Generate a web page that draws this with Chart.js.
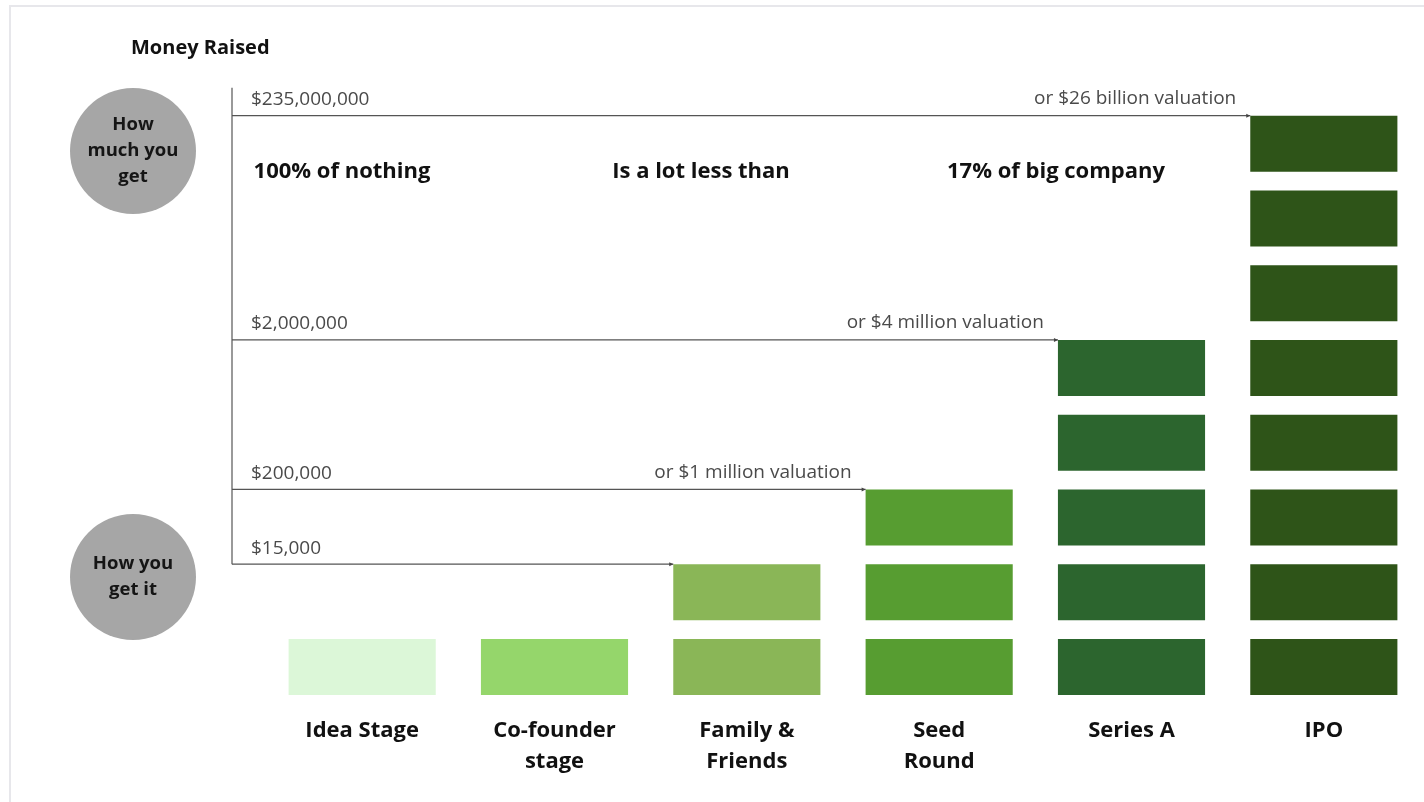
<!DOCTYPE html>
<html>
<head>
<meta charset="utf-8">
<script src="https://cdn.jsdelivr.net/npm/chart.js@4.4.1/dist/chart.umd.min.js"></script>
<style>
  html, body { margin: 0; padding: 0; background: #fff; }
  #wrap { position: relative; width: 1424px; height: 802px; }
</style>
</head>
<body>
<div id="wrap"><canvas id="c"></canvas></div>
<script>
// ---- data ----
const stages = [['Idea Stage'], ['Co-founder', 'stage'], ['Family &', 'Friends'], ['Seed', 'Round'], ['Series A'], ['IPO']];
const blockCounts = [1, 1, 2, 3, 5, 8];
const stageColors = ['#dcf7d8', '#95d66b', '#8ab657', '#579d31', '#2c652e', '#2e5418'];
const milestoneStages = [2, 3, 4, 5];
const milestoneAmounts = ['$15,000', '$200,000', '$2,000,000', '$235,000,000'];
const milestoneValuations = ['', 'or $1 million valuation', 'or $4 million valuation', 'or $26 billion valuation'];
const headlines = ['100% of nothing', 'Is a lot less than', '17% of big company'];
const titleText = 'Money Raised';
const circleTop = ['How', 'much you', 'get'];
const circleBottom = ['How you', 'get it'];

const BLOCK = 0.75; // block height in units
const maxLevel = Math.max(...blockCounts);
const datasets = [];
for (let L = 1; L <= maxLevel; L++) {
  datasets.push({
    label: 'level ' + L,
    data: blockCounts.map(c => (c >= L ? [L - 1, L - 1 + BLOCK] : null)),
    backgroundColor: stageColors,
    borderWidth: 0,
    barPercentage: 0.765,
    categoryPercentage: 1,
    grouped: false
  });
}

const FONT = "'Open Sans', 'Noto Sans', sans-serif";

const annot = {
  id: 'annot',
  afterDraw(chart) {
    const ctx = chart.ctx;
    const ys = chart.scales.y;
    const ca = chart.chartArea;
    ctx.save();
    // frame
    ctx.fillStyle = '#e7e7eb';
    ctx.fillRect(9, 5, 1424 - 9, 2);
    ctx.fillRect(9, 5, 2, 802 - 5);

    // title
    ctx.fillStyle = '#111';
    ctx.font = 'bold 20px ' + FONT;
    ctx.textAlign = 'left';
    ctx.textBaseline = 'middle';
    ctx.fillText(titleText, 131, 48);

    // circles
    const drawCircle = (cx, cy, lines) => {
      ctx.fillStyle = '#a6a6a6';
      ctx.beginPath();
      ctx.arc(cx, cy, 63, 0, Math.PI * 2);
      ctx.fill();
      ctx.fillStyle = '#151515';
      ctx.font = 'bold 18.5px ' + FONT;
      ctx.textAlign = 'center';
      ctx.textBaseline = 'middle';
      const lh = 26;
      const start = cy - (lines.length - 1) * lh / 2;
      lines.forEach((t, i) => ctx.fillText(t, cx, start + i * lh));
    };
    drawCircle(133, 151, circleTop);
    drawCircle(133, 577, circleBottom);

    // axis + milestone lines
    const axisX = ca.left - 34;
    const lineYs = milestoneStages.map(s => ys.getPixelForValue(blockCounts[s] - 1 + BLOCK));
    const topY = Math.min(...lineYs);
    const botY = Math.max(...lineYs);
    ctx.strokeStyle = '#555';
    ctx.lineWidth = 1.2;
    ctx.beginPath();
    ctx.moveTo(axisX, topY - 28);
    ctx.lineTo(axisX, botY);
    ctx.stroke();

    const meta = chart.getDatasetMeta(0);
    milestoneStages.forEach((s, i) => {
      const bar = meta.data[s];
      const left = bar.x - bar.width / 2;
      const y = lineYs[i];
      ctx.strokeStyle = '#555';
      ctx.beginPath();
      ctx.moveTo(axisX, y);
      ctx.lineTo(left, y);
      ctx.stroke();
      // tiny arrow head
      ctx.fillStyle = '#444';
      ctx.beginPath();
      ctx.moveTo(left, y);
      ctx.lineTo(left - 4, y - 2);
      ctx.lineTo(left - 4, y + 2);
      ctx.closePath();
      ctx.fill();

      ctx.fillStyle = '#4a4a4a';
      ctx.font = '19px ' + FONT;
      ctx.textBaseline = 'middle';
      ctx.textAlign = 'left';
      ctx.fillText(milestoneAmounts[i], axisX + 19, y - 16);
      if (milestoneValuations[i]) {
        ctx.textAlign = 'right';
        ctx.fillText(milestoneValuations[i], left - 14, y - 17);
      }
    });

    // headlines
    ctx.fillStyle = '#111';
    ctx.font = 'bold 22px ' + FONT;
    ctx.textAlign = 'center';
    ctx.textBaseline = 'middle';
    const hx = [342, 701, 1056];
    headlines.forEach((t, i) => ctx.fillText(t, hx[i], 172));
    ctx.restore();
  }
};

new Chart(document.getElementById('c'), {
  type: 'bar',
  data: { labels: stages, datasets },
  options: {
    responsive: true,
    maintainAspectRatio: false,
    animation: false,
    events: [],
    layout: { padding: { left: 266, right: 4, top: 97, bottom: 0 } },
    plugins: { legend: { display: false }, tooltip: { enabled: false }, title: { display: false } },
    scales: {
      x: {
        type: 'category',
        offset: true,
        grid: { display: false },
        border: { display: false },
        ticks: {
          color: '#111',
          font: { family: FONT, size: 22, weight: 'bold', lineHeight: 1.42 },
          padding: 12,
          maxRotation: 0,
          autoSkip: false
        },
        afterFit(scale) { scale.height = 107; }
      },
      y: {
        display: false,
        min: 0,
        max: 8,
        afterFit(scale) { scale.width = 0; }
      }
    }
  },
  plugins: [annot]
});
</script>
</body>
</html>
